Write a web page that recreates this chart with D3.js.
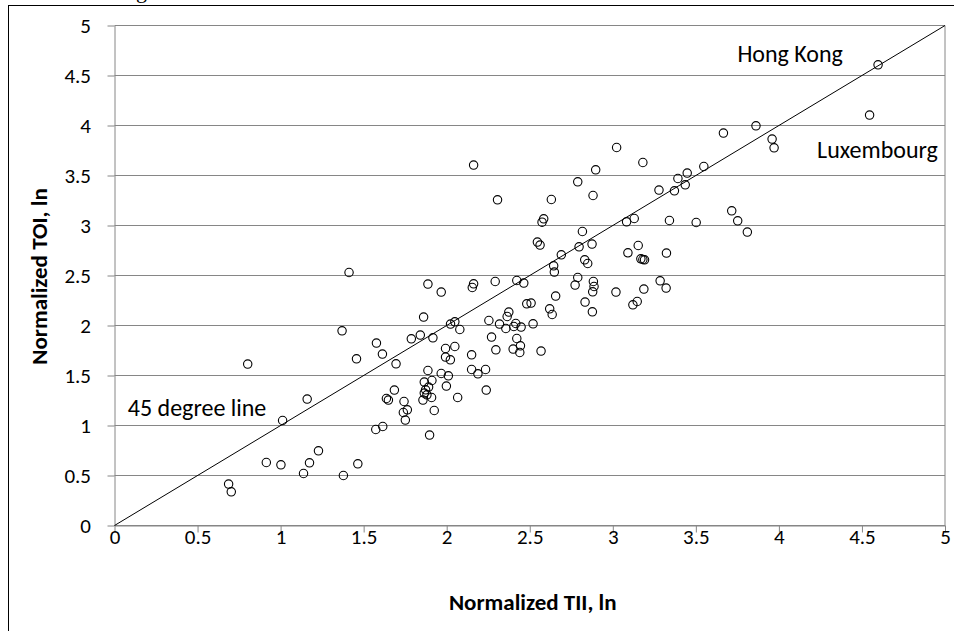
<!DOCTYPE html>
<html>
<head>
<meta charset="utf-8">
<script src="https://cdn.jsdelivr.net/npm/d3@7"></script>
<style>
body { margin: 0; background: #fff; }
svg { display: block; }
</style>
</head>
<body>
<svg width="954" height="631"></svg>
<script>
// normalized TII (x) and TOI (y), ln
var tii = [1.412,1.370,1.577,1.613,1.457,1.787,1.695,0.802,1.685,1.637,1.649,1.743,1.763,1.739,1.751,1.160,1.012,1.573,1.615,1.228,0.914,1.002,1.174,1.138,1.378,1.465,0.687,0.703,
  2.162,2.306,3.023,3.181,2.897,2.789,2.881,2.630,3.278,2.584,2.574,3.083,3.129,3.341,2.817,2.546,2.562,2.797,2.875,3.153,3.091,3.169,3.191,3.181,3.323,2.690,2.831,2.849,2.644,2.648,2.789,2.773,2.883,2.887,2.879,3.019,3.187,3.285,3.321,1.887,1.967,2.162,2.154,2.292,2.422,2.464,
  3.121,3.147,2.877,2.833,2.656,2.620,2.635,2.482,2.508,2.374,2.364,2.318,2.356,2.254,2.416,2.404,2.448,2.520,2.270,2.422,2.444,2.400,2.440,2.296,2.568,1.861,2.023,2.049,2.079,1.841,1.917,1.993,2.049,1.993,2.022,2.150,1.887,1.967,2.010,2.150,2.188,2.234,1.865,1.911,1.891,1.873,1.865,1.881,1.857,1.909,1.998,2.066,2.238,1.925,1.897,
  4.597,4.546,3.862,3.666,3.959,3.971,3.548,3.448,3.392,3.436,3.371,3.716,3.752,3.502,3.810];
var toi = [2.53,1.947,1.824,1.714,1.667,1.867,1.617,1.614,1.354,1.27,1.254,1.24,1.157,1.13,1.054,1.264,1.05,0.96,0.99,0.747,0.63,0.607,0.627,0.52,0.50,0.617,0.414,0.337,
  3.604,3.257,3.78,3.63,3.557,3.437,3.30,3.26,3.354,3.067,3.033,3.037,3.07,3.05,2.94,2.834,2.804,2.787,2.814,2.80,2.727,2.667,2.657,2.66,2.724,2.707,2.657,2.62,2.597,2.534,2.48,2.404,2.44,2.39,2.337,2.334,2.364,2.447,2.374,2.414,2.334,2.417,2.38,2.44,2.45,2.424,
  2.207,2.24,2.137,2.234,2.294,2.167,2.11,2.217,2.224,2.134,2.09,2.014,1.97,2.05,2.02,1.99,1.984,2.017,1.884,1.87,1.797,1.764,1.73,1.757,1.744,2.084,2.014,2.037,1.96,1.904,1.877,1.77,1.79,1.684,1.657,1.707,1.55,1.52,1.497,1.56,1.517,1.56,1.434,1.45,1.384,1.357,1.324,1.307,1.254,1.28,1.394,1.28,1.354,1.15,0.904,
  4.607,4.104,3.997,3.924,3.864,3.777,3.59,3.524,3.47,3.407,3.347,3.147,3.047,3.03,2.934];

var ticks = [0,0.5,1,1.5,2,2.5,3,3.5,4,4.5,5];
var diagonal = [0, 5];
var labels = [
  {text: "Hong Kong", x: 3.75, y: 4.64},
  {text: "Luxembourg", x: 4.23, y: 3.675},
  {text: "45 degree line", x: 0.08, y: 1.095}
];

var font = "Carlito, Calibri, Lato, sans-serif";

var svg = d3.select("svg"),
margin = {top: 25.5, right: 9, bottom: 105.5, left: 114.5},
width = +svg.attr("width") - margin.left - margin.right,
height = +svg.attr("height") - margin.top - margin.bottom;

// outer frame, runs off the right and bottom of the picture
svg.append("rect")
    .attr("x", 8.5).attr("y", 5.5)
    .attr("width", 1000).attr("height", 1000)
    .attr("fill", "none").attr("stroke", "#000");

// bit of a title cut by the top edge
svg.append("text")
    .attr("x", 136).attr("y", -2)
    .style("font-family", "Liberation Serif, serif")
    .style("font-size", "22px")
    .text("g");

var x = d3.scaleLinear().domain([0, 5]).range([0, width]),
y = d3.scaleLinear().domain([0, 5]).range([height, 0]);

var g = svg.append("g").attr("transform", "translate(" + margin.left + "," + margin.top + ")");

g.selectAll(".grid")
    .data(ticks)
    .enter().append("line")
    .attr("class", "grid")
    .attr("x1", 0).attr("x2", width)
    .attr("y1", function(d) { return y(d); })
    .attr("y2", function(d) { return y(d); })
    .attr("stroke", "#868686");

g.append("line")
    .attr("x1", width).attr("x2", width)
    .attr("y1", 0).attr("y2", height)
    .attr("stroke", "#868686");

var xAxis = g.append("g")
    .attr("class", "axis axis--x")
    .attr("transform", "translate(0," + height + ")")
    .call(d3.axisBottom(x).tickValues(ticks).tickSize(7).tickSizeOuter(0).tickFormat(d3.format("")));
xAxis.selectAll("text")
    .attr("y", 18.5)
    .attr("dy", "0");

var yAxis = g.append("g")
    .attr("class", "axis axis--y")
    .call(d3.axisLeft(y).tickValues(ticks).tickSize(7).tickSizeOuter(0).tickPadding(16.5).tickFormat(d3.format("")));

g.selectAll(".axis")
    .attr("font-family", font)
    .attr("font-size", 21);
g.selectAll(".axis text").attr("fill", "#000");
g.selectAll(".axis path, .axis line").attr("stroke", "#868686");

g.append("line")
    .attr("x1", x(diagonal[0])).attr("y1", y(diagonal[0]))
    .attr("x2", x(diagonal[1])).attr("y2", y(diagonal[1]))
    .attr("stroke", "#000")
    .attr("stroke-width", 1);

g.selectAll(".dot")
    .data(tii)
    .enter().append("circle")
    .attr("class", "dot")
    .attr("cx", function(d) { return x(d); })
    .attr("cy", function(d, i) { return y(toi[i]); })
    .attr("r", 4.2)
    .attr("fill", "none")
    .attr("stroke", "#000")
    .attr("stroke-width", 1.1);

g.selectAll(".note")
    .data(labels)
    .enter().append("text")
    .attr("class", "note")
    .attr("x", function(d) { return x(d.x); })
    .attr("y", function(d) { return y(d.y); })
    .style("font-family", font)
    .style("font-size", "24px")
    .text(function(d) { return d.text; });

svg.append("text")
    .attr("x", margin.left + width / 2 + 3)
    .attr("y", 610)
    .attr("text-anchor", "middle")
    .style("font-family", font)
    .style("font-size", "23px")
    .style("font-weight", "bold")
    .text("Normalized TII, ln");

svg.append("text")
    .attr("transform", "translate(47," + (margin.top + height / 2 + 1) + ") rotate(-90)")
    .attr("text-anchor", "middle")
    .style("font-family", font)
    .style("font-size", "23px")
    .style("font-weight", "bold")
    .text("Normalized TOI, ln");
</script>
</body>
</html>
